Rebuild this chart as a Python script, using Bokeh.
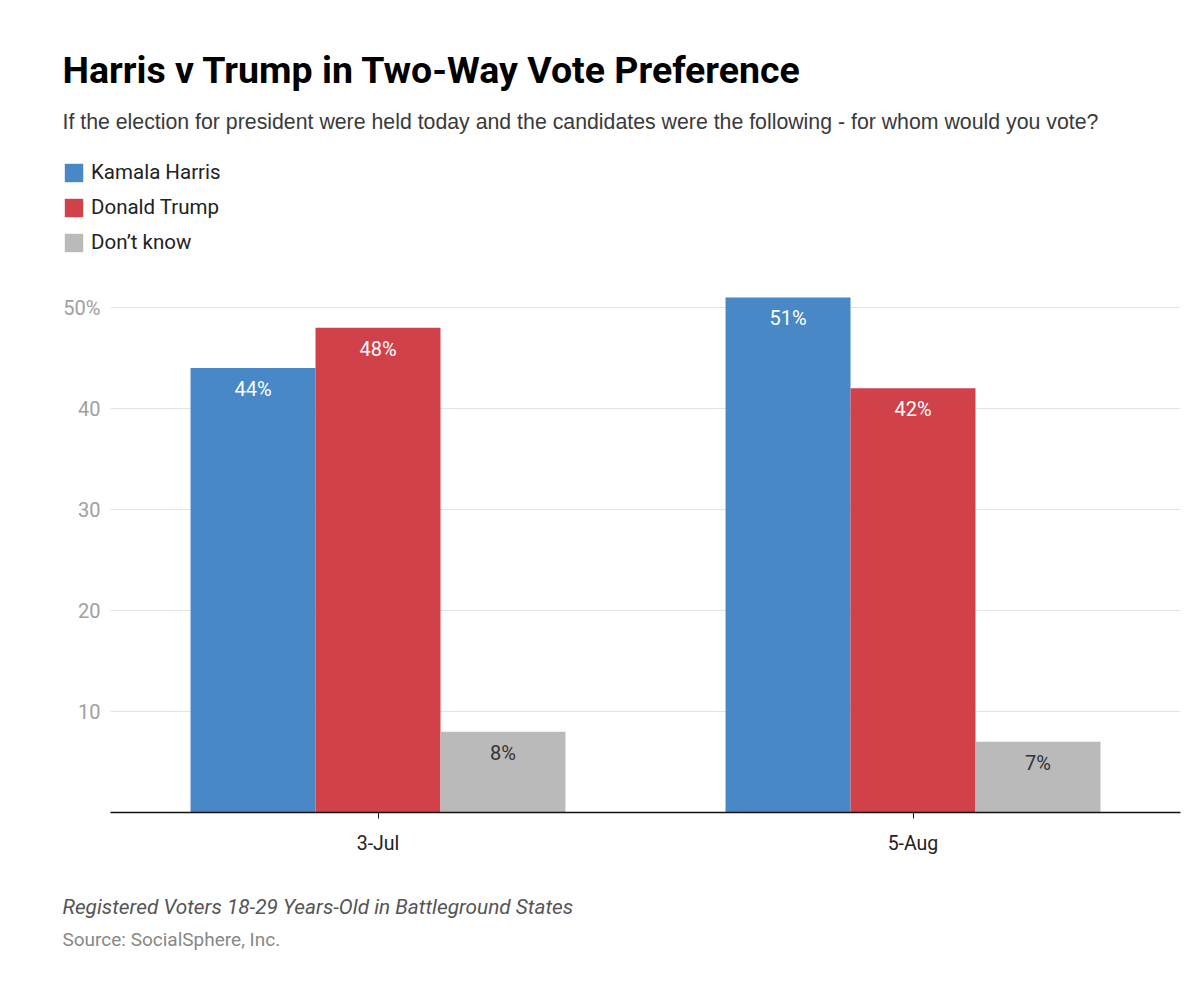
from bokeh.plotting import figure
from bokeh.models import (ColumnDataSource, Range1d, FixedTicker, Label,
                          LabelSet, Legend, LegendItem)
from bokeh.core.properties import value
from bokeh.transform import dodge
from bokeh.embed import file_html
from bokeh.resources import INLINE

# ---------------- data ----------------
dates = ["3-Jul", "5-Aug"]
harris = [44, 51]
trump = [48, 42]
dont_know = [8, 7]
series_names = ["Kamala Harris", "Donald Trump", "Don\u2019t know"]
y_ticks = [10, 20, 30, 40, 50]

title_text = "Harris v Trump in Two-Way Vote Preference"
subtitle_text = ("If the election for president were held today and the candidates were the "
                 "following - for whom would you vote?")
note_text = "Registered Voters 18-29 Years-Old in Battleground States"
source_text = "Source: SocialSphere, Inc."

# ---------------- style / layout ----------------
colors = ["#4888c7", "#d0414a", "#bababa"]
label_colors = ["#ffffff", "#ffffff", "#333333"]
FONT = "Roboto"
W, H = 1200, 995
PLOT_LEFT, PLOT_RIGHT = 110, 1180      # pixel extent of the category axis
BASE_Y, PX_PER_UNIT = 812, 10.1        # pixel row of y=0, pixels per percentage point
cat_px = (PLOT_RIGHT - PLOT_LEFT) / len(dates)

x_range = Range1d(-PLOT_LEFT / cat_px, (W - PLOT_LEFT) / cat_px)
y_range = Range1d(-(H - BASE_Y) / PX_PER_UNIT, BASE_Y / PX_PER_UNIT)

xpos = [i + 0.5 for i in range(len(dates))]

src = ColumnDataSource(dict(
    x=xpos,
    harris=harris, trump=trump, dont_know=dont_know,
    harris_lbl=[f"{v}%" for v in harris],
    trump_lbl=[f"{v}%" for v in trump],
    dont_know_lbl=[f"{v}%" for v in dont_know],
))

p = figure(width=W, height=H, x_range=x_range, y_range=y_range,
           output_backend="svg", toolbar_location=None, min_border=0)
p.outline_line_color = None
p.background_fill_color = "white"
p.border_fill_color = "white"

bw = 0.2336
cols = ["harris", "trump", "dont_know"]
offsets = [-bw, 0, bw]
renderers = []
for c, off, col, lc in zip(cols, offsets, colors, label_colors):
    r = p.vbar(x=dodge("x", off), top=c, width=bw, source=src,
               fill_color=col, line_color=None)
    renderers.append(r)
    p.add_layout(LabelSet(x=dodge("x", off), y=c, text=c + "_lbl",
                          source=src, y_offset=-21, text_align="center",
                          text_baseline="middle", text_font=value(FONT),
                          text_font_size="20px", text_color=lc))

# ---------------- axes & grid ----------------
p.xgrid.grid_line_color = None
p.ygrid.grid_line_color = "#e3e3e3"
p.ygrid.grid_line_width = 1
try:
    p.ygrid.cross_bounds = (0, len(dates))
except Exception:
    pass

p.yaxis.fixed_location = 0
p.yaxis.ticker = FixedTicker(ticks=y_ticks)
p.yaxis.major_label_overrides = {y_ticks[-1]: f"{y_ticks[-1]}%"}
p.yaxis.axis_line_color = None
p.yaxis.major_tick_line_color = None
p.yaxis.major_tick_out = 0
p.yaxis.major_tick_in = 0
p.yaxis.minor_tick_line_color = None
p.yaxis.major_label_text_font = FONT
p.yaxis.major_label_text_font_size = "20px"
p.yaxis.major_label_text_color = "#a0a0a0"
p.yaxis.major_label_standoff = 10

p.xaxis.fixed_location = 0
p.xaxis.bounds = (0, len(dates))
p.xaxis.ticker = FixedTicker(ticks=xpos)
p.xaxis.major_label_overrides = {x: d for x, d in zip(xpos, dates)}
p.xaxis.axis_line_color = "#111111"
p.xaxis.axis_line_width = 1.5
p.xaxis.major_tick_line_color = "#111111"
p.xaxis.major_tick_out = 6
p.xaxis.major_tick_in = 0
p.xaxis.minor_tick_line_color = None
p.xaxis.major_label_text_font = FONT
p.xaxis.major_label_text_font_size = "19.5px"
p.xaxis.major_label_text_color = "#222222"
p.xaxis.major_label_standoff = 13

# ---------------- legend ----------------
legend = Legend(items=[LegendItem(label=n, renderers=[r]) for n, r in zip(series_names, renderers)],
                location=(62, H - 254), orientation="vertical",
                glyph_width=23, glyph_height=23, label_standoff=6, spacing=11,
                padding=0, margin=0, border_line_color=None, background_fill_alpha=0,
                label_text_font=FONT, label_text_font_size="20.5px",
                label_text_color="#222222", label_height=23)
p.add_layout(legend, "center")


# ---------------- texts (positions given from the top-left, in pixels) ----------------
def add_text(txt, x, baseline_y, size, color, font=FONT, style="normal"):
    p.add_layout(Label(x=x, y=H - baseline_y, x_units="screen", y_units="screen", text=txt,
                       text_font=font, text_font_size=size, text_color=color,
                       text_font_style=style, text_baseline="alphabetic", text_align="left"))


add_text(title_text, 62, 69, "37.5px", "#000000", style="bold")
add_text(subtitle_text, 62, 121, "21.3px", "#3a3a3a", font="Liberation Sans")
add_text(note_text, 62, 906, "20.8px", "#555555", style="italic")
add_text(source_text, 62, 939, "19px", "#888888")

open("out.html", "w").write(file_html(p, INLINE))
